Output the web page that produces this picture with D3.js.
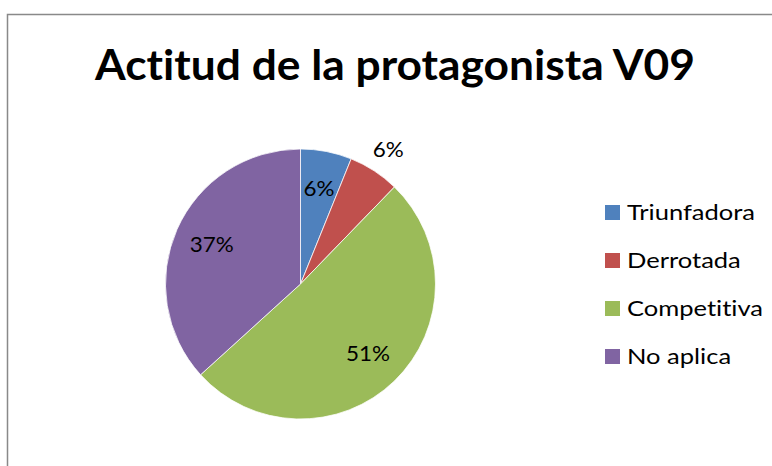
<!DOCTYPE html>
<html>
<head>
<meta charset="utf-8">
<script src="https://cdn.jsdelivr.net/npm/d3@7/dist/d3.min.js"></script>
<style>
  html, body { margin: 0; padding: 0; background: #fff; }
  svg { display: block; }
  text { font-variant-ligatures: none; font-feature-settings: "liga" 0, "clig" 0; }
</style>
</head>
<body>
<svg id="chart" width="772" height="466"></svg>
<script>
// ---- data ----
const title = "Actitud de la protagonista V09";
const categories = ["Triunfadora", "Derrotada", "Competitiva", "No aplica"];
const values = [3, 3, 25, 18];
const colors = ["#4F81BD", "#C0504D", "#9BBB59", "#8064A2"];

// ---- layout ----
const svg = d3.select("#chart");
const FONT = "Lato, 'Open Sans', 'DejaVu Sans', sans-serif";

// frame
svg.append("rect")
  .attr("x", 7.5).attr("y", 14.5)
  .attr("width", 820).attr("height", 520)
  .attr("fill", "#fff").attr("stroke", "#898989").attr("stroke-width", 1.5);

// horizontal squeeze factor: target width / natural width
function squeeze(str, size, weight, targetWidth) {
  const p = svg.append("text").attr("font-family", FONT).attr("font-size", size)
    .attr("font-weight", weight).text(str);
  const w = p.node().getComputedTextLength();
  p.remove();
  return targetWidth / w;
}
function fitText(sel, k) {
  const w = sel.node().getComputedTextLength();
  sel.attr("textLength", w * k).attr("lengthAdjust", "spacingAndGlyphs");
}

// title
const titleSize = 42;
const kTitle = squeeze(title, titleSize, "bold", 600);
const t = svg.append("text")
  .attr("x", 395).attr("y", 80)
  .attr("text-anchor", "middle")
  .attr("font-family", FONT).attr("font-weight", "bold")
  .attr("font-size", titleSize).attr("fill", "#000")
  .text(title);
fitText(t, kTitle);

// pie
const cx = 300.5, cy = 284, R = 135;
const total = d3.sum(values);
const pie = d3.pie().sort(null).value(d => d)(values);
const arc = d3.arc().innerRadius(0).outerRadius(R);
const g = svg.append("g").attr("transform", `translate(${cx},${cy})`);
g.selectAll("path.slice").data(pie).join("path")
  .attr("class", "slice")
  .attr("d", arc)
  .attr("fill", (d, i) => colors[i])
  .attr("stroke", "#fff").attr("stroke-width", 0.75);

// data labels
const inArc = d3.arc().innerRadius(97).outerRadius(97);
const outArc = d3.arc().innerRadius(161).outerRadius(161);
const labelOutside = [false, true, false, false];
const fmt = v => Math.round(v / total * 100) + "%";
const labelSize = 21;
const kLabel = squeeze("37%", labelSize, "normal", 44);

g.selectAll("text.lbl").data(pie).join("text")
  .attr("class", "lbl")
  .attr("transform", (d, i) => `translate(${(labelOutside[i] ? outArc : inArc).centroid(d)})`)
  .attr("text-anchor", "middle")
  .attr("dy", "0.36em")
  .attr("font-family", FONT).attr("font-size", labelSize).attr("fill", "#000")
  .text(d => fmt(d.value))
  .each(function() { fitText(d3.select(this), kLabel); });

// legend
const legSize = 21;
const kLeg = squeeze(categories[0], legSize, "normal", 128);
const leg = svg.append("g");
const legY = d3.scalePoint().domain(categories).range([212.5, 356.5]);
categories.forEach((c, i) => {
  const y = legY(c);
  leg.append("rect")
    .attr("x", 605).attr("y", y - 7.5)
    .attr("width", 15).attr("height", 15)
    .attr("fill", colors[i]);
  const tx = leg.append("text")
    .attr("x", 627).attr("y", y).attr("dy", "0.36em")
    .attr("font-family", FONT).attr("font-size", legSize).attr("fill", "#000")
    .text(c);
  fitText(tx, kLeg);
});
</script>
</body>
</html>
